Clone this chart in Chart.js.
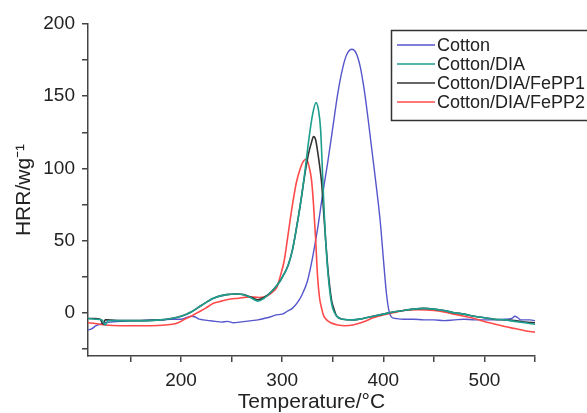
<!DOCTYPE html>
<html><head><meta charset="utf-8">
<script src="https://cdn.jsdelivr.net/npm/chart.js@4"></script>
<style>html,body{margin:0;padding:0;background:#fff;}#wrap{width:587px;height:413px;}</style>
</head><body><div id="wrap"><canvas id="c" width="587" height="413"></canvas></div>
<script>
const seriesLabels = ['Cotton', 'Cotton/DIA', 'Cotton/DIA/FePP1', 'Cotton/DIA/FePP2'];

const cottonT   = [108,112,116,120,125,130,140,150,160,170,180,190,200,205,210,214,218,222,228,234,240,246,252,258,264,270,276,282,288,294,300,305,310,315,320,325,330,335,340,345,350,355,360,364,369,373,377,381,385,389,393,397,400,403,406,409,412,420,430,440,450,460,470,480,490,500,510,520,527,530,533,536,540,545,550];
const cottonHRR = [-12,-11,-9,-8,-7,-6.5,-6,-5.5,-5.5,-5,-5,-4.5,-4.5,-3.5,-2.5,-3,-4.5,-5,-5.5,-6,-6.5,-6,-7,-6.5,-6,-5.5,-5,-4,-3,-1.5,-1,1,3,7,13,22,38,58,82,104,128,152,170,179,182.5,180,171,155,134,111,88,63,38,14,0,-3.5,-4,-4.5,-4.5,-5,-5,-5.5,-5,-4.5,-5,-5,-5,-4.5,-4,-2.5,-3.5,-5,-5,-5,-5.5];

const diaT   = [108,115,122,125,128,140,160,180,190,200,210,220,232,245,255,262,270,276,282,290,298,302,306,310,314,318,322,326,330,333.5,336,338,340,341.5,343,344.5,346,348,350,354,360,370,380,390,400,410,420,430,440,450,460,470,480,490,500,510,520,530,540,550];
const diaHRR = [-4,-4.5,-5,-8.5,-5.5,-5.5,-5.5,-5,-4,-2.5,0.5,5,10,12.5,13,12.5,10,8,10,15,22,27,33,43,58,75,95,118,137,145.5,140,127,95,70,50,34,22,10,3,-2.5,-4.5,-5,-4,-2.5,-1,0.5,1.5,2.5,3,2.5,1.5,0,-1,-2.5,-3.5,-4.5,-5,-6,-7,-8];

const fepp1T   = [108,115,120,123,125,128,140,160,180,190,200,210,220,232,245,255,262,270,276,282,290,298,302,306,310,314,318,322,326,329,331,333,335,337,339,341,343,345,347,349,351,354,360,370,380,390,400,410,420,430,440,450,460,470,480,490,500,510,520,530,540,550];
const fepp1HRR = [-4,-4,-4.5,-8,-5,-5,-5.5,-5.5,-5,-4,-2.5,0.5,5,10,12.5,13,12.5,10.5,9,10.5,15,22,27,33,43,58,75,94,110,118,122,120,112,102,90,70,50,32,18,8,3,-2.5,-4.5,-5,-4,-2.5,-1,0.5,1.5,2.5,3,2.5,1.5,0,-1,-2.5,-3.5,-4.5,-5,-5.5,-6.5,-7];

const fepp2T   = [108,115,125,140,155,170,185,195,200,205,210,216,224,232,240,249,257,265,272,278,285,290,295,298,302,306,310,314,318,321,324,327,329,331,333,335,337,339,341,344,348,355,362,370,380,390,400,410,420,435,450,460,470,480,490,495,505,513,520,530,540,550];
const fepp2HRR = [-7,-7.5,-8.5,-9,-9,-9,-8.5,-7.5,-6,-4,-2.5,0,3,6.5,8,9.5,10,10.8,10.8,10.5,11.5,14,18,25,36,55,74,90,100,105,106.5,100,92,75,52,25,10,3,-2,-5,-7,-8.5,-9,-8.5,-6.5,-3.5,-1.5,0,1.5,2,1.5,0.5,-1,-2.5,-4,-5,-7,-8.3,-9.5,-11,-12.5,-13.5];

const xTickValues = [150,200,250,300,350,400,450,500,550];
const xTickLabels = ['','200','','300','','400','','500',''];
const yTickValues = [-25,0,25,50,75,100,125,150,175,200];
const yTickLabels = ['','0','','50','','100','','150','','200'];

const colors = ['#5555cc','#1e9e8e','#333333','#ff4a4a'];
const FONT = '"Liberation Sans", Arial, Helvetica, sans-serif';

function pts(t, v){ return t.map((x,i)=>({x:x, y:v[i]})); }

const seriesData = [pts(cottonT,cottonHRR), pts(diaT,diaHRR), pts(fepp1T,fepp1HRR), pts(fepp2T,fepp2HRR)];
const drawOrder = [3,0,1,2];

const boxLegend = {
  id:'boxLegend',
  afterDraw(chart){
    const ctx = chart.ctx;
    ctx.save();
    ctx.fillStyle = '#fff';
    ctx.fillRect(391,30,200,91);
    ctx.strokeStyle = '#333'; ctx.lineWidth = 1.5;
    ctx.strokeRect(391.5,30.5,220,90);
    ctx.font = '18px ' + FONT;
    ctx.textBaseline = 'middle';
    chart.data.datasets.forEach((ds,i)=>{
      const y = 45 + i*19;
      ctx.strokeStyle = ds.borderColor; ctx.lineWidth = 1.5;
      ctx.beginPath(); ctx.moveTo(397,y); ctx.lineTo(435,y); ctx.stroke();
      ctx.fillStyle = '#222'; ctx.fillText(ds.label, 437, y+1);
    });
    ctx.restore();
  }
};

new Chart(document.getElementById('c'), {
  type:'line',
  data:{
    datasets: seriesLabels.map((lab,i)=>({
      label: lab,
      data: seriesData[i],
      borderColor: colors[i],
      borderWidth: i===0 ? 1.4 : 1.6,
      pointRadius: 0,
      fill: false,
      cubicInterpolationMode: 'monotone',
      order: drawOrder[i]
    }))
  },
  options:{
    responsive:false,
    animation:false,
    devicePixelRatio:1,
    layout:{padding:{top:24,right:52,left:0,bottom:0}},
    plugins:{legend:{display:false}, tooltip:{enabled:false}},
    scales:{
      x:{
        type:'linear', min:108, max:550,
        afterBuildTicks: s => { s.ticks = xTickValues.map(v=>({value:v})); },
        afterFit: s => { s.height = 57; },
        ticks:{ autoSkip:false, maxRotation:0, padding:7, color:'#222',
          font:{size:19, family:FONT},
          callback:(v,i)=> xTickLabels[i] },
        grid:{ drawOnChartArea:false, drawTicks:true, tickLength:6, color:'#444', lineWidth:1.5 },
        border:{ display:true, color:'#444', width:1.5 },
        title:{ display:true, text:'Temperature/°C', color:'#222', font:{size:21, family:FONT, lineHeight:1.0}, padding:{top:0,bottom:0} }
      },
      y:{
        type:'linear', min:-30, max:200,
        afterBuildTicks: s => { s.ticks = yTickValues.map(v=>({value:v})); },
        afterFit: s => { s.width = 88; },
        ticks:{ autoSkip:false, padding:7, color:'#222',
          font:{size:19, family:FONT},
          callback:(v,i)=> yTickLabels[i] },
        grid:{ drawOnChartArea:false, drawTicks:true, tickLength:6, color:'#444', lineWidth:1.5 },
        border:{ display:true, color:'#444', width:1.5 },
        title:{ display:true, text:'HRR/wg⁻¹', color:'#222', font:{size:21, family:FONT, lineHeight:1.0}, padding:{top:14,bottom:0} }
      }
    }
  },
  plugins:[boxLegend]
});
</script></body></html>
